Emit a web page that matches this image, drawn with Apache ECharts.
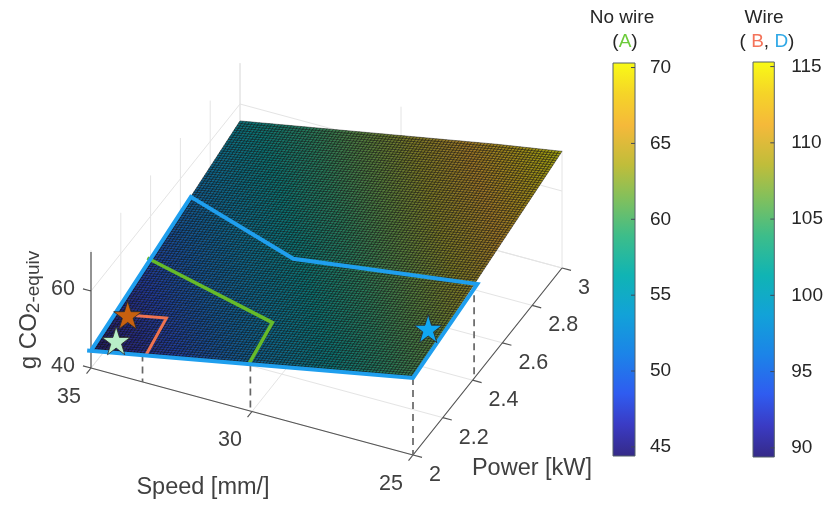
<!DOCTYPE html>
<html>
<head>
<meta charset="utf-8">
<style>html,body{margin:0;padding:0;background:#fff}#c{width:826px;height:510px}</style>
<script src="https://cdn.jsdelivr.net/npm/echarts@6/dist/echarts.min.js"></script>
</head>
<body>
<div id="c"></div>
<script>
// ---- data ----
const speedTicks = [35, 30, 25];
const powerTicks = [2, 2.2, 2.4, 2.6, 2.8, 3];
const co2Ticks = [40, 60];
const surfaceSpeeds = [35, 33, 31, 29, 27, 25];
const surfacePowers = [2, 2.2, 2.4, 2.6, 2.8, 3];
const surfaceRow20 = [44.5, 47.6, 50.7, 53.8, 56.9, 60.0];
const surfaceRow22 = [46.7, 49.8, 52.9, 56.0, 59.1, 62.1];
const surfaceRow24 = [48.9, 52.0, 55.1, 58.2, 61.2, 64.3];
const surfaceRow26 = [51.2, 54.2, 57.3, 60.3, 63.4, 66.3];
const surfaceRow28 = [53.4, 56.4, 59.5, 62.5, 65.5, 68.3];
const surfaceRow30 = [55.6, 58.6, 61.6, 64.6, 67.6, 70.3];
const surfaceRows = [surfaceRow20, surfaceRow22, surfaceRow24, surfaceRow26, surfaceRow28, surfaceRow30];

// speed, power, g CO2
const regionD = [[35.12, 2, 44.3], [25, 2, 60], [24.9, 2.41, 64.7], [30.8, 2.45, 56], [35, 2.67, 51.9], [35, 2, 44.5]];
const regionA = [[35.1, 2.4, 48.9], [30.2, 2.18, 53.9], [30.1, 2, 52.1]];
const regionB = [[34.6, 2.16, 46.9], [33.4, 2.16, 48.8], [33.3, 2, 47.1]];
const dropPoints = [[33.4, 2, 47.1], [30.05, 2, 52.1], [25, 2, 60], [25, 2.41, 64.7]];
const starA = [34.45, 2.05, 45.9];
const starB = [34.6, 2.16, 46.9];
const starD = [25.5, 2.21, 61.5];

const noWireRange = [44.4, 70.3];
const noWireTicks = [45, 50, 55, 60, 65, 70];
const wireRange = [89.4, 115.3];
const wireTicks = [90, 95, 100, 105, 110, 115];

// ---- view ----
const FONT = '"Liberation Sans", Arial, sans-serif';
const CO2_TOP = 70.6;
function project(s, p, z) {
  return [91 + (35 - s) * 32.2 + (p - 2) * 149,
          368 + (35 - s) * 8.7 - (p - 2) * 187 - (z - 40) * 3.85];
}
const parulaStops = [
  [0, '#352a87'], [0.08, '#3a3bc4'], [0.16, '#2f5cf0'], [0.26, '#1c84e8'], [0.36, '#12a2d8'],
  [0.46, '#10b4b4'], [0.56, '#3dbd8a'], [0.66, '#85c05a'], [0.74, '#c0bd3a'], [0.84, '#f5b93a'],
  [0.92, '#f5d428'], [1, '#f9fb15']
];
const parulaRgb = parulaStops.map(s => [s[0], parseInt(s[1].slice(1, 3), 16), parseInt(s[1].slice(3, 5), 16), parseInt(s[1].slice(5, 7), 16)]);
const SHADE = 0.66;
function parula(t, shade) {
  t = Math.max(0, Math.min(1, t));
  let i = 0;
  while (i < parulaRgb.length - 2 && t > parulaRgb[i + 1][0]) i++;
  const a = parulaRgb[i], b = parulaRgb[i + 1], f = (t - a[0]) / (b[0] - a[0]);
  return 'rgb(' + [1, 2, 3].map(k => Math.round((a[k] + (b[k] - a[k]) * f) * shade)).join(',') + ')';
}
function segs(list) {
  const out = [];
  list.forEach(l => { out.push(project(...l[0]), project(...l[1]), [null, null]); });
  return out;
}
const S0 = 35, S1 = 25, P0 = 2, P1 = 3, Z0 = 40;
const gridSegs = [];
speedTicks.forEach(s => {
  gridSegs.push([[s, P0, Z0], [s, P1, Z0]]);
  gridSegs.push([[s, P1, Z0], [s, P1, CO2_TOP]]);
});
powerTicks.forEach(p => {
  gridSegs.push([[S0, p, Z0], [S1, p, Z0]]);
  gridSegs.push([[S0, p, Z0], [S0, p, CO2_TOP]]);
});
co2Ticks.forEach(z => {
  gridSegs.push([[S0, P0, z], [S0, P1, z]]);
  gridSegs.push([[S0, P1, z], [S1, P1, z]]);
});
const axisSegs = [
  [[S0, P0, Z0], [S1, P0, Z0]],
  [[S1, P0, Z0], [S1, P1, Z0]],
  [[S0, P0, Z0], [S0, P0, CO2_TOP - 0.5]]
];
speedTicks.forEach(s => axisSegs.push([[s, P0, Z0], [s, P0 - 0.03, Z0]]));
powerTicks.forEach(p => axisSegs.push([[S1, p, Z0], [S1 - 0.28, p, Z0]]));
co2Ticks.forEach(z => axisSegs.push([[S0, P0, z], [S0 + 0.25, P0, z]]));
const dropSegs = dropPoints.map(t => [t, [t[0], t[1], Z0]]);

const tickLabels = [];
speedTicks.forEach(s => tickLabels.push({ pos: project(s, P0, Z0), text: String(s), dx: -22, dy: 29, align: 'center' }));
powerTicks.forEach(p => tickLabels.push({ pos: project(S1, p, Z0), text: String(p), dx: 16, dy: 20, align: 'left' }));
co2Ticks.forEach(z => tickLabels.push({ pos: project(S0, P0, z), text: String(z), dx: -16, dy: -2, align: 'right' }));

const surfaceCells = [];
for (let i = 0; i < surfaceSpeeds.length - 1; i++)
  for (let j = 0; j < surfacePowers.length - 1; j++) surfaceCells.push([i, j]);
const SUB = 20;

function renderSurfaceCell(params, api) {
  const i = api.value(0), j = api.value(1);
  const s0 = surfaceSpeeds[i], s1 = surfaceSpeeds[i + 1];
  const p0 = surfacePowers[j], p1 = surfacePowers[j + 1];
  const zAA = surfaceRows[j][i], zBA = surfaceRows[j][i + 1], zAB = surfaceRows[j + 1][i], zBB = surfaceRows[j + 1][i + 1];
  const at = (u, v) => {
    const z = zAA * (1 - u) * (1 - v) + zBA * u * (1 - v) + zAB * (1 - u) * v + zBB * u * v;
    return [s0 + (s1 - s0) * u, p0 + (p1 - p0) * v, z];
  };
  const children = [];
  for (let a = 0; a < SUB; a++) {
    for (let b = 0; b < SUB; b++) {
      const c = [at(a / SUB, b / SUB), at((a + 1) / SUB, b / SUB), at((a + 1) / SUB, (b + 1) / SUB), at(a / SUB, (b + 1) / SUB)];
      const zMid = (c[0][2] + c[2][2]) / 2;
      children.push({
        type: 'polygon',
        shape: { points: c.map(t => api.coord(project(...t))) },
        style: { fill: parula((zMid - noWireRange[0]) / (noWireRange[1] - noWireRange[0]), SHADE), stroke: 'rgba(0,0,0,0.55)', lineWidth: 0.8 },
        silent: true
      });
    }
  }
  return { type: 'group', children };
}
function renderText(params, api) {
  const d = tickLabels[params.dataIndex];
  const c = api.coord(d.pos);
  return {
    type: 'text', silent: true,
    style: { x: c[0] + d.dx, y: c[1] + d.dy, text: d.text, fill: '#404040', font: '21.5px ' + FONT, textAlign: d.align, textVerticalAlign: 'middle' }
  };
}
function barRenderer(ticks) {
  return function (params, api) {
    const a = api.coord([0, api.value(1)]), b = api.coord([1, api.value(0)]);
    const children = [{
      type: 'rect', silent: true,
      shape: { x: a[0], y: a[1], width: b[0] - a[0], height: b[1] - a[1] },
      style: {
        fill: { type: 'linear', x: 0, y: 1, x2: 0, y2: 0, colorStops: parulaStops.map(s => ({ offset: s[0], color: s[1] })) },
        stroke: '#55606a', lineWidth: 1
      }
    }];
    ticks.forEach(v => {
      const p = api.coord([1, v]);
      children.push({ type: 'line', silent: true, shape: { x1: p[0] - 4, y1: p[1], x2: p[0], y2: p[1] }, style: { stroke: '#404858', lineWidth: 1 } });
    });
    return { type: 'group', children };
  };
}
function lineSeries(data, color, width, z, type) {
  return {
    type: 'line', data, showSymbol: false, symbol: 'none', silent: true, animation: false, z, clip: false,
    xAxisIndex: 0, yAxisIndex: 0, connectNulls: false,
    lineStyle: { color, width, type: type || 'solid', join: 'miter', cap: 'butt' }
  };
}
const starPath = 'path://M50 0 L61.8 36.3 L100 36.3 L69.1 58.8 L80.9 95.1 L50 72.7 L19.1 95.1 L30.9 58.8 L0 36.3 L38.2 36.3 Z';
function star(pt, color) {
  return {
    type: 'scatter', data: [project(...pt)], symbol: starPath, symbolSize: 28, silent: true, animation: false, z: 8, clip: false,
    xAxisIndex: 0, yAxisIndex: 0,
    itemStyle: { color, borderColor: '#2b2b2b', borderWidth: 0.8, opacity: 1 }
  };
}
function colorbarAxis(idx, range, ticks, margin) {
  return {
    type: 'value', gridIndex: idx, min: range[0], max: range[1], position: 'right', z: 5,
    axisLine: { show: false }, splitLine: { show: false },
    axisTick: { show: false },
    axisLabel: { show: true, customValues: ticks, margin, color: '#262626', fontFamily: FONT, fontSize: 19 }
  };
}
const hiddenX = idx => ({ type: 'value', gridIndex: idx, min: 0, max: 1, show: false });

const option = {
  backgroundColor: '#fff',
  animation: false,
  grid: [
    { left: 0, top: 0, width: 826, height: 510 },
    { left: 613, top: 63, width: 22, height: 393 },
    { left: 753, top: 62, width: 23, height: 395 }
  ],
  xAxis: [{ type: 'value', gridIndex: 0, min: 0, max: 826, show: false }, hiddenX(1), hiddenX(2)],
  yAxis: [
    { type: 'value', gridIndex: 0, min: 0, max: 510, inverse: true, show: false },
    colorbarAxis(1, noWireRange, noWireTicks, 15),
    colorbarAxis(2, wireRange, wireTicks, 17)
  ],
  series: [
    lineSeries(segs(gridSegs), '#e4e4e4', 1, 1),
    lineSeries(segs(axisSegs), '#555555', 1.2, 2),
    { type: 'custom', xAxisIndex: 0, yAxisIndex: 0, data: surfaceCells, renderItem: renderSurfaceCell, z: 3, silent: true, animation: false, clip: false },
    lineSeries(segs(dropSegs), '#666666', 1.7, 4, [7, 5]),
    lineSeries(regionB.map(t => project(...t)), '#ee7350', 3, 5),
    lineSeries(regionA.map(t => project(...t)), '#66bb2a', 3.5, 5),
    lineSeries(regionD.map(t => project(...t)), '#1f9fee', 4, 6),
    star(starB, '#c8600f'),
    star(starA, '#b8eec8'),
    star(starD, '#10a8f2'),
    { type: 'custom', xAxisIndex: 0, yAxisIndex: 0, data: tickLabels.map((d, i) => [i]), renderItem: renderText, z: 9, silent: true, animation: false, clip: false },
    { type: 'custom', xAxisIndex: 1, yAxisIndex: 1, data: [noWireRange], renderItem: barRenderer(noWireTicks), z: 2, silent: true, animation: false, encode: { y: [0, 1] } },
    { type: 'custom', xAxisIndex: 2, yAxisIndex: 2, data: [wireRange], renderItem: barRenderer(wireTicks), z: 2, silent: true, animation: false, encode: { y: [0, 1] } }
  ],
  graphic: [
    { type: 'text', x: 203, y: 488, silent: true, style: { text: 'Speed [mm/]', fill: '#404040', font: '23.5px ' + FONT, textAlign: 'center', textVerticalAlign: 'middle' } },
    { type: 'text', x: 532, y: 469, silent: true, style: { text: 'Power [kW]', fill: '#404040', font: '23.5px ' + FONT, textAlign: 'center', textVerticalAlign: 'middle' } },
    { type: 'text', x: 29, y: 310, rotation: Math.PI / 2, silent: true,
      style: { text: '{a|g CO}{s|2-equiv}', align: 'center', verticalAlign: 'middle',
        rich: { a: { fontFamily: FONT, fontSize: 24, fill: '#404040', color: '#404040' }, s: { fontFamily: FONT, fontSize: 19, color: '#404040', fill: '#404040', padding: [9, 0, 0, 0] } } } },
    { type: 'text', x: 622, y: 18, silent: true, style: { text: 'No wire', fill: '#262626', font: '19px ' + FONT, textAlign: 'center', textVerticalAlign: 'middle' } },
    { type: 'text', x: 625, y: 42, silent: true,
      style: { text: '{k|(}{g|A}{k|)}', align: 'center', verticalAlign: 'middle',
        rich: { k: { fontFamily: FONT, fontSize: 19, color: '#262626', fill: '#262626' }, g: { fontFamily: FONT, fontSize: 19, color: '#6ccb3a', fill: '#6ccb3a' } } } },
    { type: 'text', x: 764, y: 18, silent: true, style: { text: 'Wire', fill: '#262626', font: '19px ' + FONT, textAlign: 'center', textVerticalAlign: 'middle' } },
    { type: 'text', x: 767, y: 42, silent: true,
      style: { text: '{k|( }{r|B}{k|, }{b|D}{k|)}', align: 'center', verticalAlign: 'middle',
        rich: { k: { fontFamily: FONT, fontSize: 19, color: '#262626', fill: '#262626' }, r: { fontFamily: FONT, fontSize: 19, color: '#f4735a', fill: '#f4735a' }, b: { fontFamily: FONT, fontSize: 19, color: '#2fa8e6', fill: '#2fa8e6' } } } }
  ]
};
const chart = echarts.init(document.getElementById('c'), null, { renderer: 'canvas' });
chart.setOption(option);
</script>
</body>
</html>
